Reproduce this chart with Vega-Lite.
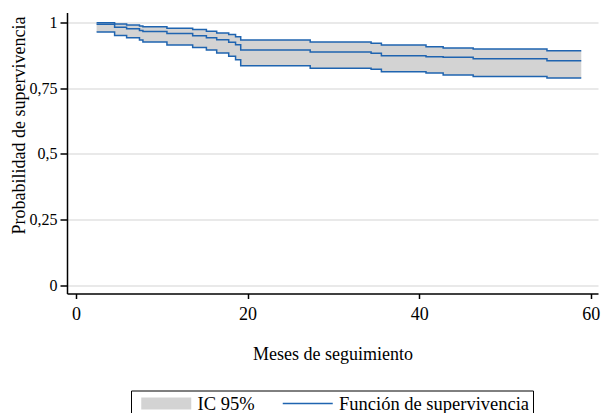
{
  "$schema": "https://vega.github.io/schema/vega-lite/v6.json",
  "autosize": {"type": "none"},
  "width": 531,
  "height": 281,
  "padding": {"left": 67, "top": 12.5, "right": 3, "bottom": 119.5},
  "background": "white",
  "config": {
    "font": "Liberation Serif",
    "view": {"stroke": null},
    "axis": {"domainColor": "black", "domainWidth": 1.5, "tickColor": "black", "tickWidth": 1.5, "labelColor": "black", "titleColor": "black", "titleFontWeight": "normal"},
    "legend": {
      "orient": "none",
      "direction": "horizontal",
      "legendX": 64,
      "legendY": 378,
      "strokeColor": "black",
      "padding": 3,
      "clipHeight": 20,
      "symbolSize": 16,
      "symbolType": "M-1,0H24",
      "labelFontSize": 18.5,
      "labelOffset": 45,
      "columnPadding": 20.5,
      "labelColor": "black",
      "labelLimit": 400
    }
  },
  "data": {"values": [
    {"t": 2.4, "S": 0.993, "L": 0.964, "U": 0.999},
    {"t": 4.5, "S": 0.982, "L": 0.951, "U": 0.994},
    {"t": 5.9, "S": 0.976, "L": 0.942, "U": 0.990},
    {"t": 7.4, "S": 0.970, "L": 0.933, "U": 0.987},
    {"t": 7.8, "S": 0.966, "L": 0.926, "U": 0.984},
    {"t": 10.6, "S": 0.958, "L": 0.914, "U": 0.978},
    {"t": 13.6, "S": 0.950, "L": 0.905, "U": 0.973},
    {"t": 15.2, "S": 0.942, "L": 0.895, "U": 0.967},
    {"t": 16.4, "S": 0.934, "L": 0.884, "U": 0.960},
    {"t": 17.8, "S": 0.925, "L": 0.872, "U": 0.954},
    {"t": 18.6, "S": 0.915, "L": 0.858, "U": 0.946},
    {"t": 19.2, "S": 0.895, "L": 0.836, "U": 0.933},
    {"t": 27.3, "S": 0.888, "L": 0.826, "U": 0.926},
    {"t": 34.4, "S": 0.883, "L": 0.822, "U": 0.921},
    {"t": 35.6, "S": 0.874, "L": 0.813, "U": 0.914},
    {"t": 40.8, "S": 0.870, "L": 0.808, "U": 0.908},
    {"t": 42.8, "S": 0.868, "L": 0.800, "U": 0.903},
    {"t": 46.3, "S": 0.862, "L": 0.795, "U": 0.899},
    {"t": 54.9, "S": 0.855, "L": 0.789, "U": 0.893},
    {"t": 58.9, "S": 0.855, "L": 0.789, "U": 0.893}
  ]},
  "encoding": {
    "x": {
      "field": "t", "type": "quantitative",
      "scale": {"domain": [-1.05, 60.85], "nice": false, "zero": false},
      "axis": {"values": [0, 20, 40, 60], "grid": false, "title": "Meses de seguimiento", "titleFontSize": 18, "labelFontSize": 18, "tickSize": 5, "labelPadding": 7, "titleY": 60.5, "titleBaseline": "middle", "labelFlush": false}
    }
  },
  "layer": [
    {
      "mark": {"type": "area", "interpolate": "step-after", "opacity": 1},
      "encoding": {
        "y": {
          "field": "L", "type": "quantitative",
          "scale": {"domain": [-0.0304, 1.038], "nice": false, "zero": false},
          "axis": {
            "values": [0, 0.25, 0.5, 0.75, 1],
            "labelExpr": "replace(toString(datum.value), '.', ',')",
            "grid": true, "gridColor": "#e2e2e2", "gridWidth": 1.5,
            "title": "Probabilidad de supervivencia", "titleFontSize": 18, "labelFontSize": 16,
            "tickSize": 7, "labelPadding": 3,
            "titleX": -48, "titleY": 112.5, "titleAngle": -90, "titleBaseline": "middle", "titleAlign": "center",
            "labelFlush": false
          }
        },
        "y2": {"field": "U"},
        "color": {
          "datum": "IC 95%",
          "scale": {"domain": ["IC 95%", "Función de supervivencia"], "range": ["#d3d3d3", "#1f64b0"]},
          "legend": {"title": null}
        }
      }
    },
    {
      "mark": {"type": "line", "interpolate": "step-after", "strokeWidth": 1.5},
      "encoding": {"y": {"field": "L", "type": "quantitative"}, "color": {"value": "#1f64b0"}}
    },
    {
      "mark": {"type": "line", "interpolate": "step-after", "strokeWidth": 1.5},
      "encoding": {"y": {"field": "U", "type": "quantitative"}, "color": {"value": "#1f64b0"}}
    },
    {
      "mark": {"type": "line", "interpolate": "step-after"},
      "encoding": {
        "y": {"field": "S", "type": "quantitative"},
        "color": {"datum": "Función de supervivencia"},
        "strokeWidth": {
          "datum": "Función de supervivencia",
          "scale": {"type": "ordinal", "domain": ["IC 95%", "Función de supervivencia"], "range": [12, 1.5]},
          "legend": {"title": null}
        }
      }
    }
  ]
}
